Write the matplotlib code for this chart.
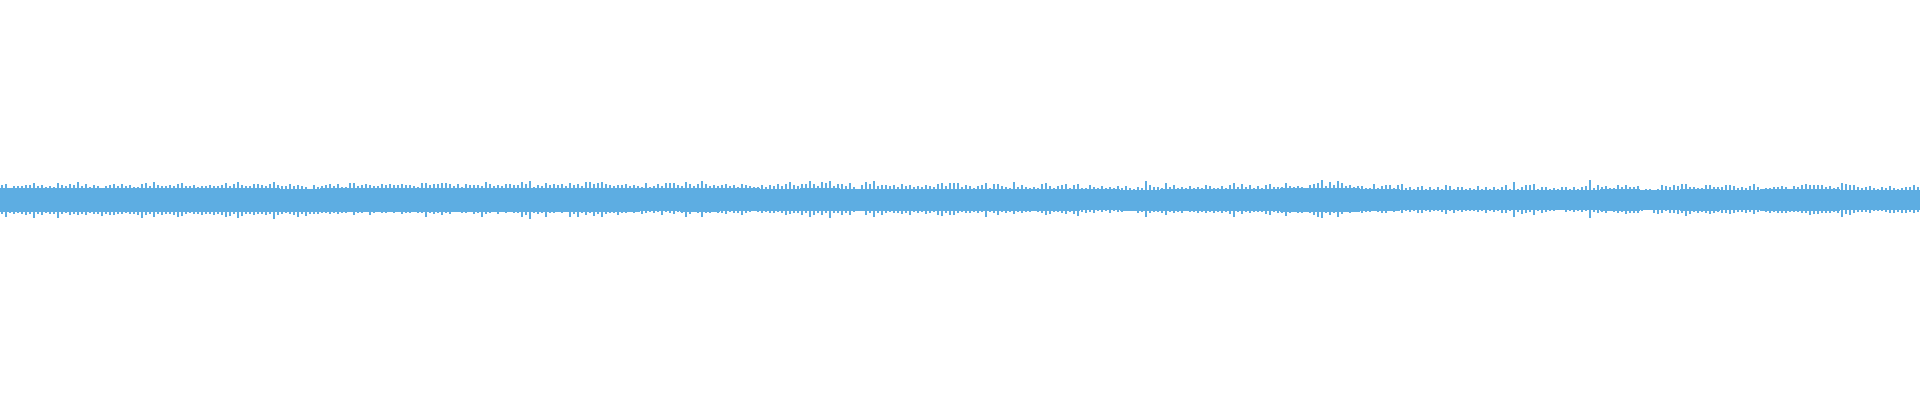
import numpy as np
import matplotlib
matplotlib.use("Agg")
import matplotlib.pyplot as plt

# Waveform envelope (amplitude above / below the centre line)
# Peak amplitude per 4-sample-column block
peak_top = [
    # 0-320
    15,16,12,14,14,14,15,15,17,14, 15,13,14,13,17,15,14,16,15,18,
    14,16,13,15,14,12,14,15,16,14, 16,14,15,13,13,16,17,14,18,15,
    14,14,15,14,16,17,14,14,15,13, 14,14,15,14,14,15,17,14,16,18,
    15,14,14,16,16,15,14,16,18,15, 14,14,16,14,15,14,13,11,15,13,
    # 320-640
    14,15,16,14,16,13,13,17,17,14, 15,16,15,14,14,16,15,16,15,15,
    16,15,15,14,13,17,17,15,16,16, 17,17,16,14,16,13,16,15,15,15,
    14,18,16,14,15,14,16,16,15,15, 18,16,19,13,15,14,17,15,16,15,
    16,14,17,15,16,14,18,18,16,17, 18,16,15,14,15,15,16,14,15,14,
    # 640-960
    13,17,13,14,16,14,17,17,17,15, 14,18,16,14,16,19,16,14,15,14,
    15,16,14,15,13,16,15,14,13,13, 15,13,15,14,16,14,16,18,15,14,
    16,16,19,16,14,18,17,19,14,16, 16,14,17,13,9,15,18,16,19,14,
    15,15,14,15,13,16,14,15,13,14, 13,15,14,13,16,17,14,17,17,17,
    # 960-1280
    13,15,14,12,14,15,17,12,16,16, 14,13,12,18,13,15,13,12,13,12,
    16,17,14,12,14,15,16,12,15,16, 12,12,15,13,12,14,12,13,12,14,
    12,14,12,11,13,12,19,15,13,13, 12,17,13,15,12,13,12,14,12,13,
    12,15,14,12,12,14,12,15,17,13, 16,13,15,12,14,12,15,16,13,13,
    # 1280-1600
    13,17,14,13,14,13,12,15,16,17, 20,14,18,15,19,17,14,15,13,14,
    14,12,12,16,12,14,15,15,12,15, 16,12,13,11,13,14,11,13,11,13,
    11,15,14,11,13,13,11,12,11,14, 11,13,11,13,11,13,15,11,18,11,
    13,15,15,16,11,13,13,11,12,11, 13,13,11,13,11,13,14,20,12,15,
    # 1600-1920
    13,14,12,12,15,13,15,13,13,14, 10,11,11,10,11,15,14,13,15,14,
    16,16,13,13,12,12,15,15,13,13, 13,15,15,14,12,13,12,14,16,13,
    11,12,12,13,13,14,13,11,14,13, 15,16,15,15,15,15,13,14,12,13,
    17,16,15,15,13,12,13,14,12,11, 13,12,14,12,11,12,13,13,15,13,
]
peak_bottom = [
    # 0-320
    14,17,13,14,13,14,15,14,18,14, 15,13,14,14,18,14,13,15,14,15,
    14,15,13,14,14,16,14,15,15,14, 14,13,14,14,15,18,15,14,17,14,
    15,14,14,15,17,16,14,13,14,14, 15,14,14,15,14,15,17,16,14,18,
    16,14,14,15,14,14,15,14,19,15, 14,13,14,15,17,14,16,14,14,14,
    # 320-640
    13,13,14,13,14,13,13,12,15,13, 13,12,15,13,12,13,13,12,13,12,
    14,13,13,12,13,13,17,13,14,13, 15,13,14,12,12,13,13,12,14,13,
    17,14,13,12,14,12,13,12,13,13, 17,15,19,13,14,13,17,13,13,12,
    13,12,17,14,17,13,15,13,16,14, 17,14,13,13,15,13,13,12,13,12,
    # 640-960
    14,13,12,13,12,15,12,13,14,12, 13,17,14,12,13,17,13,13,12,13,
    13,14,12,13,13,15,13,12,11,12, 13,12,13,13,12,13,15,14,13,13,
    15,13,17,15,13,15,13,18,13,13, 15,13,15,12,9,11,15,13,17,13,
    15,13,12,13,13,14,13,15,12,13, 12,14,13,12,15,16,13,15,15,13,
    # 960-1280
    12,13,13,12,13,12,17,12,13,15, 12,13,12,14,12,13,12,12,11,12,
    13,15,14,12,12,13,14,12,14,16, 12,13,12,13,11,12,11,13,11,12,
    12,11,11,11,13,12,17,13,12,12, 13,15,12,13,12,13,11,12,12,13,
    12,13,12,13,12,13,12,14,17,12, 14,12,13,12,12,12,14,15,12,13,
    # 1280-1600
    13,16,13,12,13,13,12,13,15,17, 18,13,15,13,17,14,12,13,12,12,
    13,12,12,11,12,13,13,11,12,11, 13,11,12,11,13,13,11,12,11,11,
    12,14,11,13,11,12,11,11,11,12, 11,13,11,12,11,13,13,11,17,12,
    14,13,12,15,11,13,12,11,11,10, 10,12,11,12,11,12,11,18,12,13,
    # 1600-1920
    12,13,11,12,13,12,14,13,13,13, 11,10,10,13,14,13,11,13,13,14,
    13,16,14,12,13,12,13,14,13,12, 13,13,14,13,12,12,13,12,14,12,
    11,12,13,12,13,13,13,12,12,12, 13,13,15,14,14,13,13,13,12,13,
    17,14,15,13,12,12,12,13,11,11, 11,12,13,13,12,13,13,12,13,12,
]
# Solid core amplitude per 40-column block
core_top = [
    12,12,12,12,12,12,12,11,
    12,12,12,12,12,12,12,12,
    12,12,12,11,12,11,11,11,
    11,11,11,11,10,11,11,11,
    12,12,11,10,10,10,10,10,
    11,10,11,10,11,11,10,10,
]
core_bottom = [
    12,12,12,12,12,12,12,12,
    12,12,12,12,12,12,12,12,
    11,12,11,11,11,11,11,11,
    11,11,11,10,11,11,11,11,
    12,12,11,10,10,10,10,10,
    11,10,11,10,11,11,10,10,
]

WAVE = "#5DADE2"

pt = np.array(peak_top, dtype=float)
pb = np.array(peak_bottom, dtype=float)
ct = np.array(core_top, dtype=float)
cb = np.array(core_bottom, dtype=float)

n_cols = 1920
peak_w = n_cols / len(pt)
core_w = n_cols / len(ct)

fig = plt.figure(figsize=(19.2, 4.0), dpi=100)
ax = fig.add_axes([0, 0, 1, 1])

# solid core band
edges = np.arange(len(ct) + 1) * core_w
ax.fill_between(edges, np.append(ct, ct[-1]), -np.append(cb, cb[-1]),
                step="post", color=WAVE, linewidth=0)

# ragged peaks (pixel-aligned, narrow columns)
xc = (np.arange(len(pt)) + 0.5) * peak_w
ax.bar(xc, pt + pb, bottom=-pb, width=peak_w * 0.5, color=WAVE, linewidth=0)

ax.set_xlim(0, n_cols)
ax.set_ylim(-200, 200)
ax.axis("off")
fig.patch.set_facecolor("white")
fig.savefig("out.png", dpi=100, facecolor="white")
